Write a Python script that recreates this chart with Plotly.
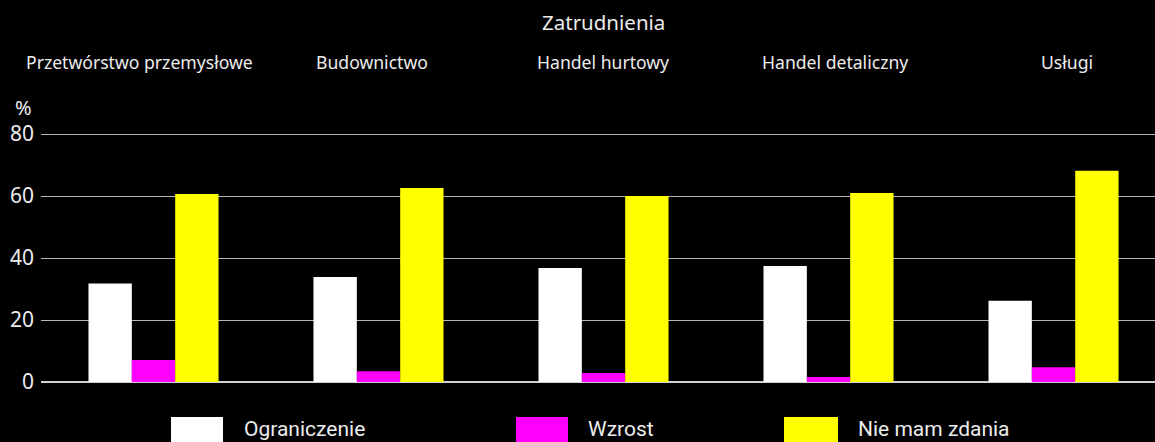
import plotly.graph_objects as go

categories = ["Przetwórstwo przemysłowe", "Budownictwo", "Handel hurtowy", "Handel detaliczny", "Usługi"]
series_names = ["Ograniczenie", "Wzrost", "Nie mam zdania"]
ograniczenie = [31.8, 33.9, 36.8, 37.4, 26.2]
wzrost = [7.1, 3.5, 2.9, 1.6, 4.8]
nie_mam_zdania = [60.7, 62.6, 60.0, 61.0, 68.2]
colors = ["#ffffff", "#ff00ff", "#ffff00"]
y_ticks = [0, 20, 40, 60, 80]
title = "Zatrudnienia"

FONT = "Noto Sans"
TXT = "#ececec"
xs = list(range(len(categories)))

fig = go.Figure()
for name, vals, col in zip(series_names, [ograniczenie, wzrost, nie_mam_zdania], colors):
    fig.add_trace(go.Bar(x=xs, y=vals, name=name, marker=dict(color=col, line=dict(width=0)),
                         showlegend=False))

PLOT_L, PLOT_W = 41, 1114
PLOT_T, PLOT_B = 131, 382
PLOT_H = PLOT_B - PLOT_T
def px(x):
    return (x - PLOT_L) / PLOT_W
def py(y):
    return (PLOT_B - y) / PLOT_H

label_centers = [139.5, 371.5, 602.5, 834.5, 1066.5]
ann = []
for c, cx in zip(categories, label_centers):
    ann.append(dict(x=px(cx), y=py(62), xref="paper", yref="paper", text=c, showarrow=False,
                    font=dict(family=FONT, size=17.6, color=TXT), xanchor="center", yanchor="middle"))
ann.append(dict(x=px(603.5), y=py(22), xref="paper", yref="paper", text=title, showarrow=False,
                font=dict(family=FONT, size=20.5, color=TXT), xanchor="center", yanchor="middle"))
ann.append(dict(x=px(23.5), y=py(107), xref="paper", yref="paper", text="%", showarrow=False,
                font=dict(family=FONT, size=20, color=TXT), xanchor="center", yanchor="middle"))

sw_x = [(171, 223), (516, 568), (784, 838)]
txt_x = [242, 586, 856]
shapes = []
for (x0, x1), tx, name, col in zip(sw_x, txt_x, series_names, colors):
    shapes.append(dict(type="rect", xref="paper", yref="paper", x0=px(x0), x1=px(x1), y0=py(450), y1=py(417),
                       fillcolor=col, line=dict(width=0)))
    ann.append(dict(x=px(tx), y=py(429), xref="paper", yref="paper", text=name, showarrow=False,
                    font=dict(family="Roboto", size=21, color=TXT),
                    xanchor="left", yanchor="middle"))

fig.update_layout(
    width=1155, height=442,
    margin=dict(l=41, r=0, t=PLOT_T, b=442 - PLOT_B),
    paper_bgcolor="black", plot_bgcolor="black",
    barmode="group", bargap=0.422, bargroupgap=0,
    annotations=ann, shapes=shapes,
    xaxis=dict(range=[-0.5, 4.451], showticklabels=False, showgrid=False, zeroline=False, ticks=""),
    yaxis=dict(range=[0, 81], tickvals=y_ticks, showgrid=True, gridcolor="#b4b4b4", gridwidth=1,
               zeroline=True, zerolinecolor="#d0d0d0", zerolinewidth=1.5,
               tickfont=dict(family=FONT, size=21, color=TXT), ticks="", ticklabelstandoff=6),
)
fig.write_html("out.html", config={"displayModeBar": False},
               post_script="document.body.style.margin='0';document.body.style.background='black';")
